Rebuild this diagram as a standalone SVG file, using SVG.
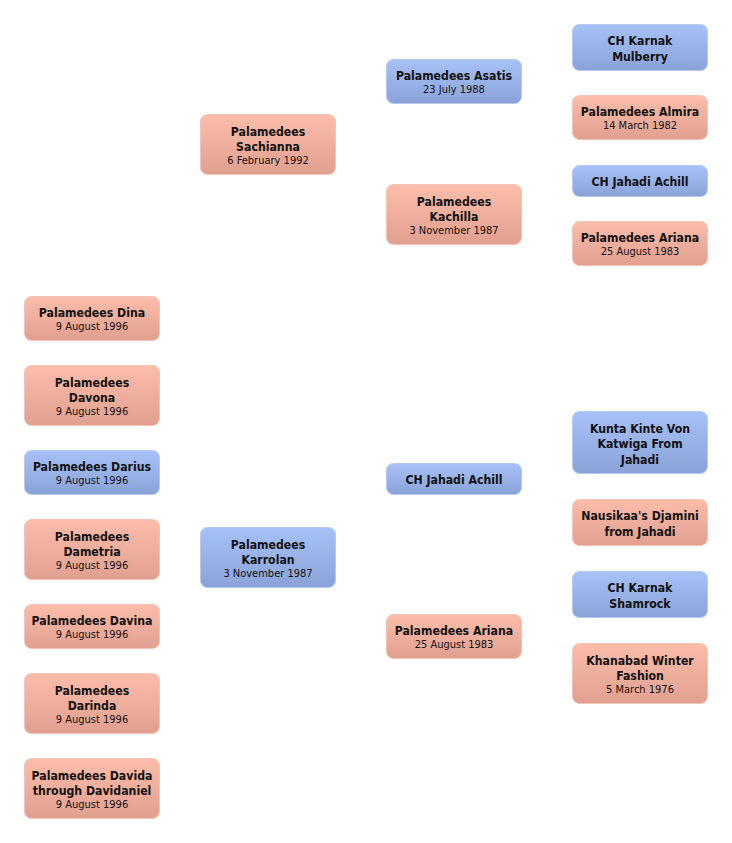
<svg xmlns="http://www.w3.org/2000/svg" width="732" height="843" viewBox="0 0 732 843">
<defs>
<linearGradient id="gp" x1="0" y1="0" x2="0" y2="1"><stop offset="0" stop-color="#fdbdab"/><stop offset="1" stop-color="#e1a08f"/></linearGradient>
<linearGradient id="gb" x1="0" y1="0" x2="0" y2="1"><stop offset="0" stop-color="#a7c2f8"/><stop offset="1" stop-color="#8aa2d8"/></linearGradient>
</defs>
<style>
.p{fill:url(#gp);stroke:#f3c4b6;stroke-width:1}
.b{fill:url(#gb);stroke:#b4c9f0;stroke-width:1}
text{font-family:"DejaVu Sans Condensed","DejaVu Sans","Liberation Sans",sans-serif;text-anchor:middle;fill:#111}
.n{font-size:12.2px;font-weight:bold}
.d{font-size:11px}
</style>
<rect width="732" height="843" fill="#fff"/>
<g id="connectors"/>
<g id="dina"><rect class="p" x="24.5" y="296.5" width="135" height="44" rx="7"/><text class="n" x="92" y="317">Palamedees Dina</text><text class="d" x="92" y="330">9 August 1996</text></g>
<g id="davona"><rect class="p" x="24.5" y="365.5" width="135" height="60" rx="7"/><text class="n" x="92" y="386.5">Palamedees</text><text class="n" x="92" y="402">Davona</text><text class="d" x="92" y="415">9 August 1996</text></g>
<g id="darius"><rect class="b" x="24.5" y="450.5" width="135" height="44" rx="7"/><text class="n" x="92" y="471">Palamedees Darius</text><text class="d" x="92" y="484">9 August 1996</text></g>
<g id="dametria"><rect class="p" x="24.5" y="519.5" width="135" height="60" rx="7"/><text class="n" x="92" y="540.5">Palamedees</text><text class="n" x="92" y="556">Dametria</text><text class="d" x="92" y="569">9 August 1996</text></g>
<g id="davina"><rect class="p" x="24.5" y="604.5" width="135" height="44" rx="7"/><text class="n" x="92" y="625">Palamedees Davina</text><text class="d" x="92" y="638">9 August 1996</text></g>
<g id="darinda"><rect class="p" x="24.5" y="673.5" width="135" height="60" rx="7"/><text class="n" x="92" y="694.5">Palamedees</text><text class="n" x="92" y="710">Darinda</text><text class="d" x="92" y="723">9 August 1996</text></g>
<g id="davida"><rect class="p" x="24.5" y="758.5" width="135" height="60" rx="7"/><text class="n" x="92" y="779.5">Palamedees Davida</text><text class="n" x="92" y="795">through Davidaniel</text><text class="d" x="92" y="808">9 August 1996</text></g>
<g id="sachianna"><rect class="p" x="200.5" y="114.5" width="135" height="60" rx="7"/><text class="n" x="268" y="135.5">Palamedees</text><text class="n" x="268" y="151">Sachianna</text><text class="d" x="268" y="164">6 February 1992</text></g>
<g id="karrolan"><rect class="b" x="200.5" y="527.5" width="135" height="60" rx="7"/><text class="n" x="268" y="548.5">Palamedees</text><text class="n" x="268" y="564">Karrolan</text><text class="d" x="268" y="577">3 November 1987</text></g>
<g id="asatis"><rect class="b" x="386.5" y="59.5" width="135" height="44" rx="7"/><text class="n" x="454" y="80">Palamedees Asatis</text><text class="d" x="454" y="93">23 July 1988</text></g>
<g id="kachilla"><rect class="p" x="386.5" y="184.5" width="135" height="60" rx="7"/><text class="n" x="454" y="205.5">Palamedees</text><text class="n" x="454" y="221">Kachilla</text><text class="d" x="454" y="234">3 November 1987</text></g>
<g id="achill"><rect class="b" x="386.5" y="463.5" width="135" height="31" rx="7"/><text class="n" x="454" y="484">CH Jahadi Achill</text></g>
<g id="ariana"><rect class="p" x="386.5" y="614.5" width="135" height="44" rx="7"/><text class="n" x="454" y="635">Palamedees Ariana</text><text class="d" x="454" y="648">25 August 1983</text></g>
<g id="mulberry"><rect class="b" x="572.5" y="24.5" width="135" height="46" rx="7"/><text class="n" x="640" y="45">CH Karnak</text><text class="n" x="640" y="60.5">Mulberry</text></g>
<g id="almira"><rect class="p" x="572.5" y="95.5" width="135" height="44" rx="7"/><text class="n" x="640" y="116">Palamedees Almira</text><text class="d" x="640" y="129">14 March 1982</text></g>
<g id="achill2"><rect class="b" x="572.5" y="165.5" width="135" height="31" rx="7"/><text class="n" x="640" y="186">CH Jahadi Achill</text></g>
<g id="ariana2"><rect class="p" x="572.5" y="221.5" width="135" height="44" rx="7"/><text class="n" x="640" y="242">Palamedees Ariana</text><text class="d" x="640" y="255">25 August 1983</text></g>
<g id="kunta"><rect class="b" x="572.5" y="411.5" width="135" height="62" rx="7"/><text class="n" x="640" y="432.5">Kunta Kinte Von</text><text class="n" x="640" y="448">Katwiga From</text><text class="n" x="640" y="463.5">Jahadi</text></g>
<g id="nausikaa"><rect class="p" x="572.5" y="499.5" width="135" height="46" rx="7"/><text class="n" x="640" y="520">Nausikaa's Djamini</text><text class="n" x="640" y="535.5">from Jahadi</text></g>
<g id="shamrock"><rect class="b" x="572.5" y="571.5" width="135" height="46" rx="7"/><text class="n" x="640" y="592">CH Karnak</text><text class="n" x="640" y="607.5">Shamrock</text></g>
<g id="khanabad"><rect class="p" x="572.5" y="643.5" width="135" height="60" rx="7"/><text class="n" x="640" y="664.5">Khanabad Winter</text><text class="n" x="640" y="680">Fashion</text><text class="d" x="640" y="693">5 March 1976</text></g>
</svg>
